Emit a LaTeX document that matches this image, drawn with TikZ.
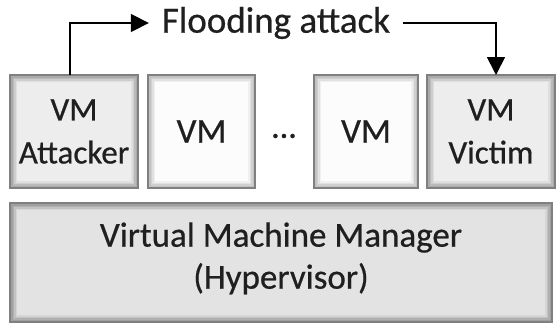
\documentclass[tikz,border=0pt]{standalone}
\usepackage{fontspec}
\setmainfont{Carlito}[FakeBold=0.6]
\usetikzlibrary{arrows.meta}

\definecolor{darkface}{gray}{0.93}
\definecolor{darkedge}{gray}{0.62}
\definecolor{lightface}{gray}{0.99}
\definecolor{lightedge}{gray}{0.72}
\definecolor{hypface}{gray}{0.89}
\definecolor{hypedge}{gray}{0.58}
\definecolor{ink}{gray}{0.12}

\tikzset{
  % bevelled box: #1 = face colour, #2 = edge colour (named colours)
  bevel/.style 2 args={
    draw=black!50, line width=1.4pt, fill=#2,
    path picture={
      \foreach \d/\m in {1/15, 2.5/35, 4/60, 5.5/82, 7/100} {
        \fill[#1!\m!#2]
          ([shift={(\d pt,-\d pt)}]path picture bounding box.north west)
          rectangle
          ([shift={(-\d pt,\d pt)}]path picture bounding box.south east);
      }
    },
    align=center, text=ink
  },
  vmtext/.style={font=\fontsize{33}{43}\selectfont},
  arr/.style={line width=1.8pt, -{Triangle[length=18pt,width=18pt]}}
}

\begin{document}
\begin{tikzpicture}[x=1pt, y=-1pt]
  \useasboundingbox (0,0) rectangle (556,324);

  % guest virtual machines
  \node[bevel={darkface}{darkedge}, vmtext, minimum width=128pt, minimum height=113pt]
    (att) at (74,131.5) {VM\\Attacker};
  \node[bevel={lightface}{lightedge}, font=\fontsize{35}{43}\selectfont,
        minimum width=107pt, minimum height=113pt]
    (vm2) at (201.5,131.5) {VM};
  \node[font=\fontsize{34}{30}\selectfont, text=ink] (dots) at (284,136) {...};
  \node[bevel={lightface}{lightedge}, font=\fontsize{35}{43}\selectfont,
        minimum width=104pt, minimum height=113pt]
    (vm3) at (366,131.5) {VM};
  \node[bevel={darkface}{darkedge}, vmtext, minimum width=128pt, minimum height=113pt]
    (vic) at (491,131.5) {VM\\Victim};

  % hypervisor layer
  \node[bevel={hypface}{hypedge}, font=\fontsize{35}{42}\selectfont,
        minimum width=542pt, minimum height=119pt, text depth=14pt]
    (hyp) at (281,262.5) {Virtual Machine Manager\\(Hypervisor)};

  % attack path
  \node[font=\fontsize{37}{40}\selectfont, text=ink, minimum width=254pt,
        inner sep=0pt] (flood) at (276,23) {Flooding attack};
  \coordinate (attTop) at (70,75);
  \coordinate (vicTop) at (496,75);
  \draw[arr] (attTop) |- (flood.west);
  \draw[arr] (flood.east) -| (vicTop);
\end{tikzpicture}
\end{document}
